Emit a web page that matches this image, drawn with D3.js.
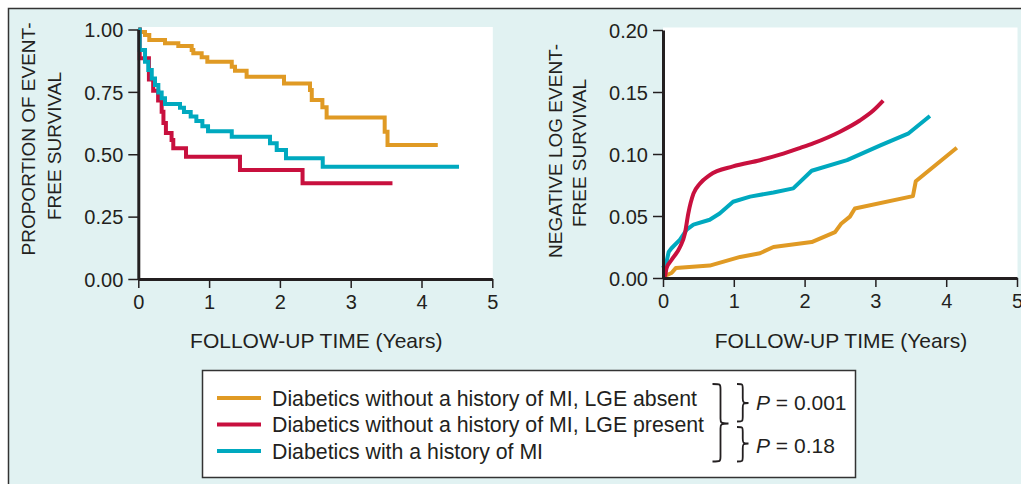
<!DOCTYPE html>
<html>
<head>
<meta charset="utf-8">
<script src="https://cdn.jsdelivr.net/npm/d3@7/dist/d3.min.js"></script>
<style>
  html, body { margin: 0; padding: 0; background: #ffffff; }
  svg { display: block; }
  text { font-family: "Liberation Sans", Arial, Helvetica, sans-serif; fill: #231f20; }
</style>
</head>
<body>
<svg id="chart" width="1021" height="484"></svg>
<script>
// ---------- DATA ----------
const seriesNames = [
  "Diabetics without a history of MI, LGE absent",
  "Diabetics without a history of MI, LGE present",
  "Diabetics with a history of MI"
];
const seriesColors = ["#e09a24", "#c8103e", "#00a9bf"];

const xTicks = [0, 1, 2, 3, 4, 5];
const leftYTicks = [0, 0.25, 0.5, 0.75, 1.0];
const rightYTicks = [0, 0.05, 0.10, 0.15, 0.20];

// Kaplan-Meier event-free survival (step functions) [years, proportion]
const kmAbsent = [[0,1.0],[0.02,0.99],[0.095,0.978],[0.155,0.958],[0.377,0.945],[0.565,0.934],[0.754,0.918],[0.777,0.905],[0.895,0.889],[0.975,0.871],[1.32,0.851],[1.366,0.835],[1.53,0.811],[2.058,0.784],[2.425,0.758],[2.45,0.717],[2.60,0.688],[2.66,0.647],[3.48,0.59],[3.52,0.537],[4.23,0.537]];
const kmPresent = [[0,1.0],[0.02,0.885],[0.15,0.80],[0.21,0.755],[0.28,0.715],[0.33,0.67],[0.355,0.625],[0.39,0.585],[0.47,0.557],[0.494,0.524],[0.674,0.49],[1.436,0.437],[2.32,0.384],[3.59,0.384]];
const kmMI = [[0,1.0],[0.02,0.918],[0.095,0.871],[0.141,0.838],[0.19,0.804],[0.236,0.778],[0.283,0.747],[0.33,0.724],[0.377,0.701],[0.589,0.686],[0.645,0.669],[0.74,0.651],[0.82,0.633],[0.905,0.612],[0.985,0.592],[1.32,0.57],[1.86,0.544],[1.955,0.517],[2.086,0.484],[2.605,0.45],[4.53,0.45]];

// Negative log event-free survival [years, value]
const nlAbsent = [[0,0.001],[0.12,0.004],[0.18,0.008],[0.66,0.010],[1.09,0.017],[1.37,0.020],[1.56,0.025],[2.10,0.029],[2.43,0.037],[2.52,0.044],[2.64,0.0495],[2.71,0.056],[3.53,0.066],[3.57,0.078],[4.15,0.105]];
const nlPresent = [[0,0.0],[0.03,0.002],[0.05,0.008],[0.12,0.0145],[0.24,0.025],[0.31,0.036],[0.357,0.052],[0.43,0.068],[0.52,0.076],[0.66,0.083],[0.99,0.090],[1.37,0.095],[1.65,0.0995],[1.94,0.105],[2.12,0.1086],[2.5,0.118],[2.78,0.127],[2.97,0.135],[3.11,0.143]];
const nlMI = [[0,0.008],[0.05,0.013],[0.08,0.021],[0.12,0.024],[0.24,0.031],[0.335,0.039],[0.43,0.043],[0.66,0.047],[0.80,0.052],[0.99,0.0615],[1.23,0.0656],[1.56,0.069],[1.84,0.0723],[2.10,0.0865],[2.6,0.095],[3.07,0.107],[3.47,0.1167],[3.77,0.1306]];

const pLabels = ["0.001", "0.18"];

// ---------- DRAW ----------
const svg = d3.select("#chart");
const ink = "#231f20";

svg.append("rect").attr("x", 8.5).attr("y", 8.5).attr("width", 1030).attr("height", 490)
  .attr("fill", "#e1f2f2").attr("stroke", "#333").attr("stroke-width", 1.5);

function panel(cfg) {
  const x = d3.scaleLinear().domain([0, 5]).range([cfg.x0, cfg.x1]);
  const y = d3.scaleLinear().domain(cfg.yDomain).range([cfg.yBottom, cfg.yTop]);
  const g = svg.append("g");
  g.append("rect").attr("x", cfg.x0).attr("y", cfg.yTop - 2.5)
    .attr("width", cfg.x1 - cfg.x0 + 0.5).attr("height", cfg.yBottom - cfg.yTop + 2.5)
    .attr("fill", "#ffffff");

  cfg.series.forEach(s => {
    const line = d3.line().x(d => x(d[0])).y(d => y(d[1])).curve(s.curve);
    g.append("path").datum(s.data).attr("d", line)
      .attr("fill", "none").attr("stroke", s.color).attr("stroke-width", 4)
      .attr("stroke-linejoin", cfg.join).attr("stroke-linecap", "butt");
  });

  const ax = g.append("g").attr("transform", `translate(0,${cfg.yBottom})`)
    .call(d3.axisBottom(x).tickValues(xTicks).tickFormat(d3.format("d")).tickSize(9).tickSizeOuter(0).tickPadding(5));
  const ay = g.append("g").attr("transform", `translate(${cfg.x0},0)`)
    .call(d3.axisLeft(y).tickValues(cfg.yTicks).tickFormat(d3.format(".2f")).tickSize(10).tickSizeOuter(0).tickPadding(5));
  [ax, ay].forEach(a => {
    a.select(".domain").attr("stroke", ink).attr("stroke-width", 3);
    a.selectAll(".tick line").attr("stroke", ink).attr("stroke-width", 1.5);
    a.selectAll(".tick text").style("font-size", "20px").attr("fill", ink)
      .style("font-family", '"Liberation Sans", Arial, sans-serif');
  });
  ax.selectAll(".tick text").attr("dy", "0.78em");
  ay.selectAll(".tick text").attr("dy", "0.36em");

  g.append("text").attr("x", (cfg.x0 + cfg.x1) / 2 + 1).attr("y", 348)
    .attr("text-anchor", "middle").style("font-size", "21px").text("FOLLOW-UP TIME (Years)");

  cfg.yTitle.forEach((t, i) => {
    g.append("text").attr("transform", `translate(${t.x},${t.y}) rotate(-90)`)
      .attr("text-anchor", "middle").attr("dy", "0.36em").style("font-size", "19px").text(t.text);
  });
}

panel({
  x0: 138.3, x1: 492.3, yTop: 29.5, yBottom: 279, yDomain: [0, 1], yTicks: leftYTicks,
  join: "miter",
  series: [
    { data: kmAbsent, color: seriesColors[0], curve: d3.curveStepAfter },
    { data: kmPresent, color: seriesColors[1], curve: d3.curveStepAfter },
    { data: kmMI, color: seriesColors[2], curve: d3.curveStepAfter }
  ],
  yTitle: [
    { text: "PROPORTION OF EVENT-", x: 28.5, y: 139 },
    { text: "FREE SURVIVAL", x: 54, y: 146 }
  ]
});

panel({
  x0: 663, x1: 1017, yTop: 30, yBottom: 278, yDomain: [0, 0.2], yTicks: rightYTicks,
  join: "round",
  series: [
    { data: nlAbsent, color: seriesColors[0], curve: d3.curveLinear },
    { data: nlMI, color: seriesColors[2], curve: d3.curveLinear },
    { data: nlPresent, color: seriesColors[1], curve: d3.curveMonotoneX }
  ],
  yTitle: [
    { text: "NEGATIVE LOG EVENT-", x: 555, y: 151 },
    { text: "FREE SURVIVAL", x: 579.5, y: 153 }
  ]
});

// ---------- LEGEND ----------
const lg = svg.append("g");
lg.append("rect").attr("x", 202.5).attr("y", 370.5).attr("width", 653).attr("height", 107)
  .attr("fill", "#ffffff").attr("stroke", "#333").attr("stroke-width", 1.5);

const rowY = d3.scalePoint().domain(seriesNames).range([398, 451]);
seriesNames.forEach((n, i) => {
  lg.append("line").attr("x1", 217).attr("x2", 261).attr("y1", rowY(n)).attr("y2", rowY(n))
    .attr("stroke", seriesColors[i]).attr("stroke-width", 4);
  lg.append("text").attr("x", 272).attr("y", rowY(n)).attr("dy", "0.36em")
    .style("font-size", "21.3px").text(n);
});

function brace(x, y1, y2, ym, w) {
  const xm = x + w * 0.5, r = 5;
  return `M${x},${y1} C${xm},${y1} ${xm},${y1} ${xm},${y1 + r}` +
         ` L${xm},${ym - r} C${xm},${ym - 1} ${xm},${ym} ${x + w},${ym}` +
         ` C${xm},${ym} ${xm},${ym + 1} ${xm},${ym + r}` +
         ` L${xm},${y2 - r} C${xm},${y2} ${xm},${y2} ${x},${y2}`;
}
[[712.5, 384, 461.5, 423.5, 16], [737, 384, 421.5, 403, 11.5], [737, 427, 461.5, 443.5, 11.5]].forEach(b => {
  lg.append("path").attr("d", brace(...b)).attr("fill", "none")
    .attr("stroke", ink).attr("stroke-width", 1.8);
});
[[410, pLabels[0]], [453, pLabels[1]]].forEach(([yy, p]) => {
  const t = lg.append("text").attr("x", 756).attr("y", yy).style("font-size", "21px");
  t.append("tspan").style("font-style", "italic").text("P");
  t.append("tspan").text(" = " + p);
});
</script>
</body>
</html>
